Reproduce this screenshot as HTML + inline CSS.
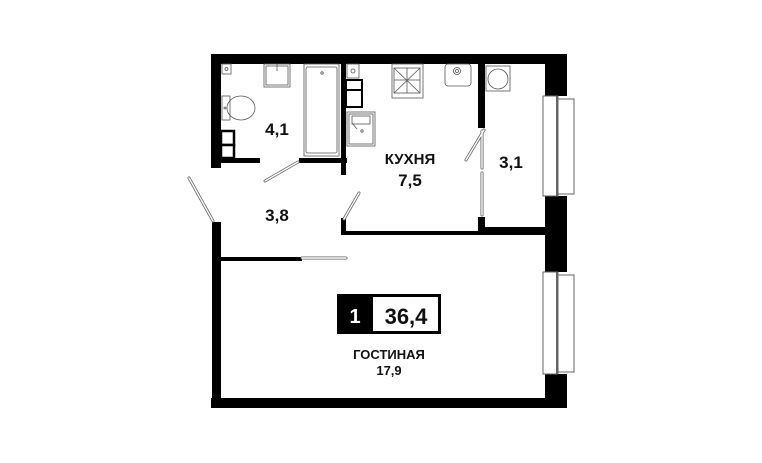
<!DOCTYPE html>
<html><head><meta charset="utf-8"><style>
html,body{margin:0;padding:0;background:#fff;}
svg{display:block;}
text{font-family:"Liberation Sans",sans-serif;font-weight:bold;fill:#111;}
</style></head><body>
<svg width="762" height="463" viewBox="0 0 762 463" xmlns="http://www.w3.org/2000/svg">
<rect width="762" height="463" fill="#fff"/>
<g fill="#000">
<rect x="211" y="54" width="356" height="10"/>
<rect x="211" y="54" width="10" height="114"/>
<rect x="212" y="222" width="9" height="186"/>
<rect x="211" y="398" width="356" height="10"/>
<rect x="545" y="54" width="22" height="42"/>
<rect x="545" y="196" width="22" height="76"/>
<rect x="545" y="374" width="22" height="34"/>
<rect x="221" y="158" width="39" height="5"/>
<rect x="299" y="158" width="48" height="5"/>
<rect x="341" y="64" width="5" height="111"/>
<rect x="341" y="218" width="5" height="16"/>
<rect x="341" y="231" width="140" height="4"/>
<rect x="478" y="64" width="7" height="64"/>
<rect x="478" y="217" width="7" height="18"/>
<rect x="478" y="227" width="67" height="8"/>
<rect x="221" y="257" width="81" height="4"/>
</g>
<!-- bathroom shelves -->
<g fill="#fff" stroke="#000" stroke-width="2.5">
<rect x="221" y="131" width="13" height="14"/>
<rect x="221" y="145" width="13" height="13"/>
</g>
<g fill="#fff" stroke="#000" stroke-width="2">
<rect x="346" y="80" width="16" height="10"/>
<rect x="346" y="90" width="16" height="17"/>
</g>
<g fill="none" stroke="#555" stroke-width="0.8">
<rect x="222" y="64" width="9" height="10"/><circle cx="226.5" cy="69" r="1.5"/>
<rect x="264" y="64" width="26" height="23"/><rect x="266" y="66" width="22" height="19"/>
<line x1="277" y1="64" x2="277" y2="71"/>
<rect x="304" y="64" width="35" height="92"/><rect x="306" y="67" width="31" height="86" rx="2"/>
<circle cx="322" cy="73" r="1.2"/>
<rect x="347" y="64" width="12" height="14"/><circle cx="353" cy="71" r="2"/>
<rect x="222" y="96" width="8" height="24"/><ellipse cx="241" cy="108" rx="14" ry="12"/>
<circle cx="225" cy="108" r="1"/>
<rect x="347" y="112" width="28" height="34"/><rect x="349" y="114" width="24" height="30"/>
<line x1="352" y1="123" x2="357" y2="129"/><circle cx="362" cy="131" r="1.2"/>
<rect x="352" y="116" width="18" height="8"/>
<rect x="392" y="64" width="31" height="34"/>
<rect x="394" y="68" width="26" height="25"/>
<line x1="394" y1="68" x2="420" y2="93"/><line x1="420" y1="68" x2="394" y2="93"/>
<line x1="407" y1="68" x2="407" y2="93"/><line x1="394" y1="80" x2="420" y2="80"/>
<rect x="445" y="64" width="26" height="22" rx="3"/><circle cx="457" cy="71" r="3.5"/><circle cx="457" cy="71" r="1.5"/>
<rect x="486" y="66" width="24" height="25"/><circle cx="498" cy="79" r="10"/>
</g>
<g fill="#fff" stroke="#666" stroke-width="1">
<rect x="543" y="96" width="15" height="100"/>
<rect x="558" y="99" width="16" height="95"/>
<line x1="557" y1="96" x2="557" y2="196" stroke-width="2"/>
<rect x="543" y="272" width="15" height="102"/>
<rect x="558" y="275" width="16" height="97"/>
<line x1="557" y1="272" x2="557" y2="374" stroke-width="2"/>
</g>
<g stroke="#666" stroke-width="3" stroke-linecap="round">
<line x1="213" y1="221" x2="189" y2="178"/>
<line x1="298" y1="162" x2="265" y2="181"/>
<line x1="344" y1="219" x2="359" y2="193"/>
<line x1="484" y1="130" x2="466" y2="160"/>
<line x1="302" y1="258" x2="346" y2="258"/>
<line x1="482" y1="131" x2="482" y2="168"/>
<line x1="482" y1="173" x2="482" y2="215"/>
</g>
<g stroke="#fff" stroke-width="1.4" stroke-linecap="round">
<line x1="213" y1="221" x2="189" y2="178"/>
<line x1="298" y1="162" x2="265" y2="181"/>
<line x1="344" y1="219" x2="359" y2="193"/>
<line x1="484" y1="130" x2="466" y2="160"/>
<line x1="302" y1="258" x2="346" y2="258"/>
<line x1="482" y1="131" x2="482" y2="168"/>
<line x1="482" y1="173" x2="482" y2="215"/>
</g>
<text x="277" y="135" font-size="17" text-anchor="middle">4,1</text>
<text x="410" y="164" font-size="15" text-anchor="middle">КУХНЯ</text>
<text x="410" y="186" font-size="17" text-anchor="middle">7,5</text>
<text x="511" y="168" font-size="17" text-anchor="middle">3,1</text>
<text x="277" y="221" font-size="17" text-anchor="middle">3,8</text>
<rect x="337" y="294" width="104" height="40" fill="#000"/>
<rect x="373" y="297" width="65" height="34" fill="#fff"/>
<text x="355" y="323" font-size="20" text-anchor="middle" style="fill:#fff">1</text>
<text x="406" y="324" font-size="22" text-anchor="middle">36,4</text>
<text x="389" y="359" font-size="13" text-anchor="middle">ГОСТИНАЯ</text>
<text x="389" y="375" font-size="13" text-anchor="middle" font-weight="normal">17,9</text>
</svg>
</body></html>
